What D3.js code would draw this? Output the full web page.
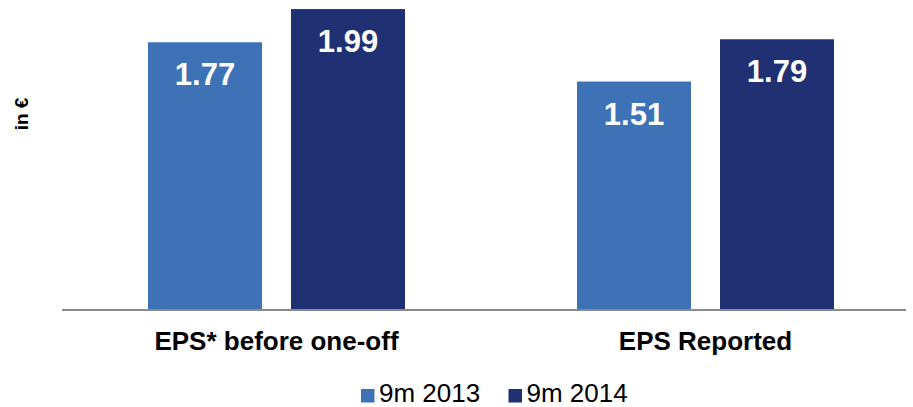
<!DOCTYPE html>
<html>
<head>
<meta charset="utf-8">
<script src="https://cdn.jsdelivr.net/npm/d3@7"></script>
<style>
  html, body { margin: 0; padding: 0; background: #fff; }
  svg { display: block; font-family: "Liberation Sans", Arial, sans-serif; }
</style>
</head>
<body>
<svg id="chart" width="913" height="407"></svg>
<script>
// Earnings per share, in euro
const categories = ["EPS* before one-off", "EPS Reported"];
const seriesNames = ["9m 2013", "9m 2014"];
const values2013 = [1.77, 1.51];
const values2014 = [1.99, 1.79];
const colors = ["#3E72B7", "#1F3173"];

const svg = d3.select("#chart");
const baseY = 309.5;

const x0 = d3.scaleBand().domain(categories).range([62, 920]);
const x1 = d3.scaleBand().domain(seriesNames).range([0, 257]).paddingInner(29 / 143).paddingOuter(0);
const y = d3.scaleLinear().domain([0, 2.05]).range([baseY, 0]);

const rows = categories.map((c, i) => ({
  cat: c,
  vals: [values2013[i], values2014[i]].map((v, j) => ({ s: seriesNames[j], v, c: colors[j] }))
}));

const groups = svg.append("g").selectAll("g").data(rows).join("g")
  .attr("transform", d => `translate(${x0(d.cat) + x0.bandwidth() / 2 - 128.5},0)`);

groups.selectAll("rect").data(d => d.vals).join("rect")
  .attr("x", d => x1(d.s))
  .attr("width", x1.bandwidth())
  .attr("y", d => y(d.v))
  .attr("height", d => baseY - y(d.v))
  .attr("fill", d => d.c);

groups.selectAll("text.val").data(d => d.vals).join("text")
  .attr("class", "val")
  .attr("x", d => x1(d.s) + x1.bandwidth() / 2)
  .attr("y", d => y(d.v) + 43)
  .attr("text-anchor", "middle")
  .attr("fill", "#fff")
  .attr("font-weight", "bold")
  .attr("font-size", 31)
  .text(d => d.v.toFixed(2));

// category axis
const axis = d3.axisBottom(x0).tickSize(0).tickPadding(0);
const gAxis = svg.append("g").attr("transform", `translate(0,${baseY})`).call(axis);
gAxis.select(".domain").remove();
gAxis.selectAll(".tick text")
  .attr("y", 40.5).attr("dy", 0)
  .attr("font-size", 26).attr("font-weight", "bold")
  .attr("font-family", "Liberation Sans, Arial, sans-serif")
  .attr("fill", "#000");
svg.append("line")
  .attr("x1", 62).attr("x2", 906)
  .attr("y1", baseY + 0.5).attr("y2", baseY + 0.5)
  .attr("stroke", "#8a8a8a").attr("stroke-width", 2);

// unit label
svg.append("text")
  .attr("transform", "translate(27.5,114) rotate(-90)")
  .attr("text-anchor", "middle")
  .attr("font-size", 19).attr("font-weight", "bold")
  .text("in €");

// legend
const legendX = [361, 508.5];
const leg = svg.append("g").selectAll("g").data(seriesNames).join("g")
  .attr("transform", (d, i) => `translate(${legendX[i]},0)`);
leg.append("rect").attr("x", 0).attr("y", 389).attr("width", 13.5).attr("height", 13.5)
  .attr("fill", (d, i) => colors[i]);
leg.append("text").attr("x", 18).attr("y", 401.5)
  .attr("font-size", 26).attr("fill", "#000")
  .text(d => d);
</script>
</body>
</html>
